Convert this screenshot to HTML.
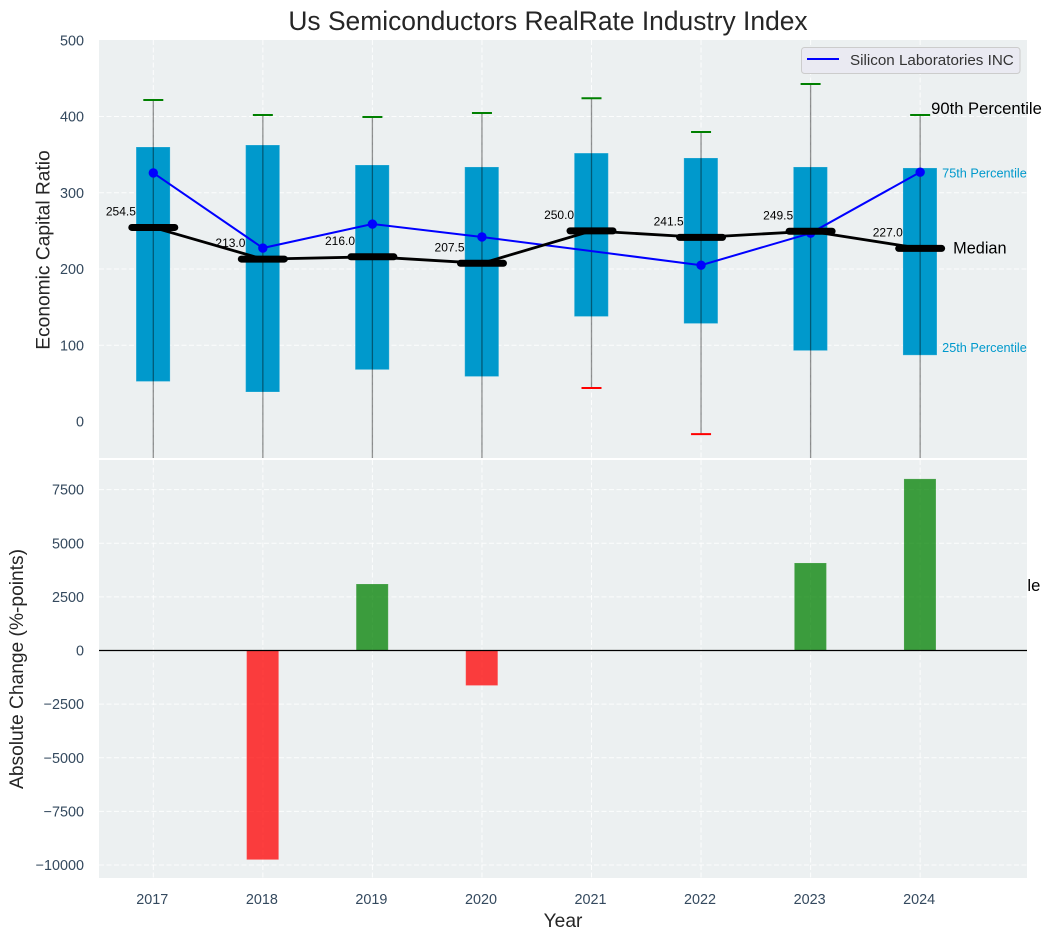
<!DOCTYPE html>
<html>
<head>
<meta charset="utf-8">
<title>Us Semiconductors RealRate Industry Index</title>
<style>
html,body{margin:0;padding:0;background:#fff;}
svg{display:block;font-family:"Liberation Sans",Arial,sans-serif;}
</style>
</head>
<body>
<svg id="chart" xmlns="http://www.w3.org/2000/svg" width="1051" height="940" viewBox="0 0 1051 940"></svg>
<script>
const years = [2017, 2018, 2019, 2020, 2021, 2022, 2023, 2024];
const q1Values = [52.5, 38.7, 68, 59, 137.7, 128.5, 93, 87];
const q3Values = [360, 362.6, 336.4, 333.8, 352, 345.6, 333.8, 332.5];
const medianValues = [254.5, 213.0, 216.0, 207.5, 250.0, 241.5, 249.5, 227.0];
const p90Values = [421.6, 402, 399.3, 404.6, 424, 379.7, 442.6, 402];
const p10Values = [-120, -110, -100, -105, 44, -16.5, -90, -100];
const companyValues = [326, 227.5, 259, 242, null, 205, 247, 327];
const changeValues = [0, -9750, 3100, -1630, 0, 0, 4080, 8000];
const topTicks = [0, 100, 200, 300, 400, 500];
const bottomTicks = [-10000, -7500, -5000, -2500, 0, 2500, 5000, 7500];
const percentileLabels = ["90th Percentile", "75th Percentile", "Median", "25th Percentile", "10th Percentile"];
const percentileValues = [411, 326, 228, 97, -215];

const svg = document.getElementById('chart');
const NS = 'http://www.w3.org/2000/svg';
const PL = 99, PR = 1027, T1 = 40, B1 = 458, T2 = 460, B2 = 878;
const xS = v => 153.3 + (v - 2017) * 109.55;
const yT = v => 421.5 - v * 0.7625;
const yB = v => 650.5 - v * 0.02145;

function mk(tag, attrs, parent, text) {
  const el = document.createElementNS(NS, tag);
  for (const k in attrs) el.setAttribute(k, attrs[k]);
  if (text !== undefined) el.textContent = text;
  (parent || svg).appendChild(el);
  return el;
}
function name(el, n, i) {
  
  
  return el;
}
const GRID = {stroke:'#ffffff', 'stroke-width':1, 'stroke-dasharray':'5 2.5', 'stroke-opacity':0.85};
const TICKCOL = '#34495e';

const defs = mk('defs', {});
const clipEl = mk('clipPath', {id:'topClip'}, defs);
mk('rect', {x:PL, y:T1, width:PR-PL, height:B1-T1}, clipEl);

/* title */
name(mk('text', {x:548, y:30, 'text-anchor':'middle', 'font-size':26.4, fill:'#262626'}, svg, 'Us Semiconductors RealRate Industry Index'), 'chart-title');

/* top panel */
const topBg = mk('rect', {x:PL, y:T1, width:PR-PL, height:B1-T1, fill:'#ECF0F1'});
name(topBg, 'top-panel-background');
const gridTop = name(mk('g', {}), 'top-grid');
topTicks.forEach(t => {
  if (t > 0 && t < 500) mk('line', Object.assign({x1:PL, x2:PR, y1:yT(t), y2:yT(t)}, GRID), gridTop);
});
years.forEach(y => mk('line', Object.assign({x1:xS(y), x2:xS(y), y1:T1, y2:B1}, GRID), gridTop));

const topMarks = name(mk('g', {'clip-path':'url(#topClip)'}), 'top-marks');

/* median value labels sit beneath the boxes */
years.forEach((y, i) => {
  const el = mk('text', {x:xS(y) - 17.4, y:yT(medianValues[i]) - 12, 'text-anchor':'end', 'font-size':12, fill:'#000'}, topMarks, medianValues[i].toFixed(1));
  
  
});
/* boxes */
years.forEach((y, i) => {
  const el = mk('rect', {x:xS(y) - 17.2, y:yT(q3Values[i]), width:34, height:yT(q1Values[i]) - yT(q3Values[i]), fill:'#0099CC', stroke:'#ffffff', 'stroke-opacity':0.2, 'stroke-width':1}, topMarks);
  
  
});
/* whiskers */
years.forEach((y, i) => {
  const el = mk('line', {x1:xS(y), x2:xS(y), y1:yT(p90Values[i]), y2:yT(p10Values[i]), stroke:'#000', 'stroke-opacity':0.42, 'stroke-width':1.3}, topMarks);
  
  
  const up = mk('line', {x1:xS(y) - 10, x2:xS(y) + 10, y1:yT(p90Values[i]), y2:yT(p90Values[i]), stroke:'#008000', 'stroke-width':2}, topMarks);
  
  
  const lo = mk('line', {x1:xS(y) - 10, x2:xS(y) + 10, y1:yT(p10Values[i]), y2:yT(p10Values[i]), stroke:'#ff0000', 'stroke-width':2}, topMarks);
  
  
});
/* company line */
const companyPts = years.map((y, i) => companyValues[i] === null ? null : xS(y) + ',' + yT(companyValues[i])).filter(Boolean).join(' ');
name(mk('polyline', {points:companyPts, fill:'none', stroke:'#0000ff', 'stroke-width':2}, topMarks), 'company-line');
years.forEach((y, i) => {
  if (companyValues[i] === null) return;
  const el = mk('circle', {cx:xS(y), cy:yT(companyValues[i]), r:4.7, fill:'#0000ff'}, topMarks);
  
  
});
/* median line */
const medianPts = years.map((y, i) => xS(y) + ',' + yT(medianValues[i])).join(' ');
name(mk('polyline', {points:medianPts, fill:'none', stroke:'#000', 'stroke-width':2.8}, topMarks), 'median-line');
years.forEach((y, i) => {
  const el = mk('line', {x1:xS(y) - 21.5, x2:xS(y) + 21.5, y1:yT(medianValues[i]), y2:yT(medianValues[i]), stroke:'#000', 'stroke-width':7, 'stroke-linecap':'round'}, topMarks);
  
  
});

/* percentile annotations (drawn before lower panel, which covers part of the 10th label) */
const lastX = xS(years[years.length - 1]);
const annOffsets = [11, 22, 33, 22, 9.5];
const annSizes = [16.6, 12.7, 16.3, 12.7, 16.6];
const annColors = ['#000', '#0099CC', '#000', '#0099CC', '#000'];
percentileLabels.forEach((t, i) => {
  const el = mk('text', {x:lastX + annOffsets[i], y:yT(percentileValues[i]) + annSizes[i] * 0.35, 'font-size':annSizes[i], fill:annColors[i]}, svg, t);
  
  
});

/* legend */
const legend = name(mk('g', {}), 'legend');
mk('rect', {x:801.5, y:47.5, width:218.5, height:26, rx:3, fill:'#EAEAF2', stroke:'#cccccc', 'stroke-width':1}, legend);
mk('line', {x1:807, x2:839, y1:59, y2:59, stroke:'#0000ff', 'stroke-width':2}, legend);
mk('text', {x:850, y:65, 'font-size':15.2, fill:'#333'}, legend, 'Silicon Laboratories INC');

/* bottom panel */
name(mk('rect', {x:PL, y:T2, width:PR-PL, height:B2-T2, fill:'#ECF0F1'}), 'bottom-panel-background');
const gridBottom = name(mk('g', {}), 'bottom-grid');
bottomTicks.forEach(t => {
  mk('line', Object.assign({x1:PL, x2:PR, y1:yB(t), y2:yB(t)}, GRID), gridBottom);
});
years.forEach(y => mk('line', Object.assign({x1:xS(y), x2:xS(y), y1:T2, y2:B2}, GRID), gridBottom));

years.forEach((y, i) => {
  const v = changeValues[i];
  if (!v) return;
  const el = mk('rect', {x:xS(y) - 16.2, y:Math.min(yB(v), yB(0)), width:32, height:Math.abs(yB(v) - yB(0)), fill:v > 0 ? '#008000' : '#ff0000', 'fill-opacity':0.75, stroke:'#ffffff', 'stroke-opacity':0.12, 'stroke-width':1}, svg);
  
  
});
name(mk('line', {x1:PL, x2:PR, y1:yB(0), y2:yB(0), stroke:'#000', 'stroke-width':1.3}), 'zero-line');

/* tick labels */
topTicks.forEach(t => {
  const el = mk('text', {x:84, y:yT(t) + 5, 'text-anchor':'end', 'font-size':14.4, fill:TICKCOL}, svg, String(t));
  
  
});
bottomTicks.forEach(t => {
  const el = mk('text', {x:84, y:yB(t) + 5, 'text-anchor':'end', 'font-size':14.4, fill:TICKCOL}, svg, (t < 0 ? '\u2212' : '') + Math.abs(t));
  
  
});
years.forEach(y => {
  const el = mk('text', {x:xS(y) - 1, y:904, 'text-anchor':'middle', 'font-size':14.4, fill:TICKCOL}, svg, String(y));
  
  
});

/* axis titles */
name(mk('text', {x:563, y:927, 'text-anchor':'middle', 'font-size':19.2, fill:'#262626'}, svg, 'Year'), 'x-axis-title');
name(mk('text', {transform:'translate(49.5 250) rotate(-90)', 'text-anchor':'middle', 'font-size':19.2, fill:'#262626'}, svg, 'Economic Capital Ratio'), 'y-axis-title-top');
name(mk('text', {transform:'translate(23 669) rotate(-90)', 'text-anchor':'middle', 'font-size':19.2, fill:'#262626'}, svg, 'Absolute Change (%-points)'), 'y-axis-title-bottom');
</script>
</body>
</html>
